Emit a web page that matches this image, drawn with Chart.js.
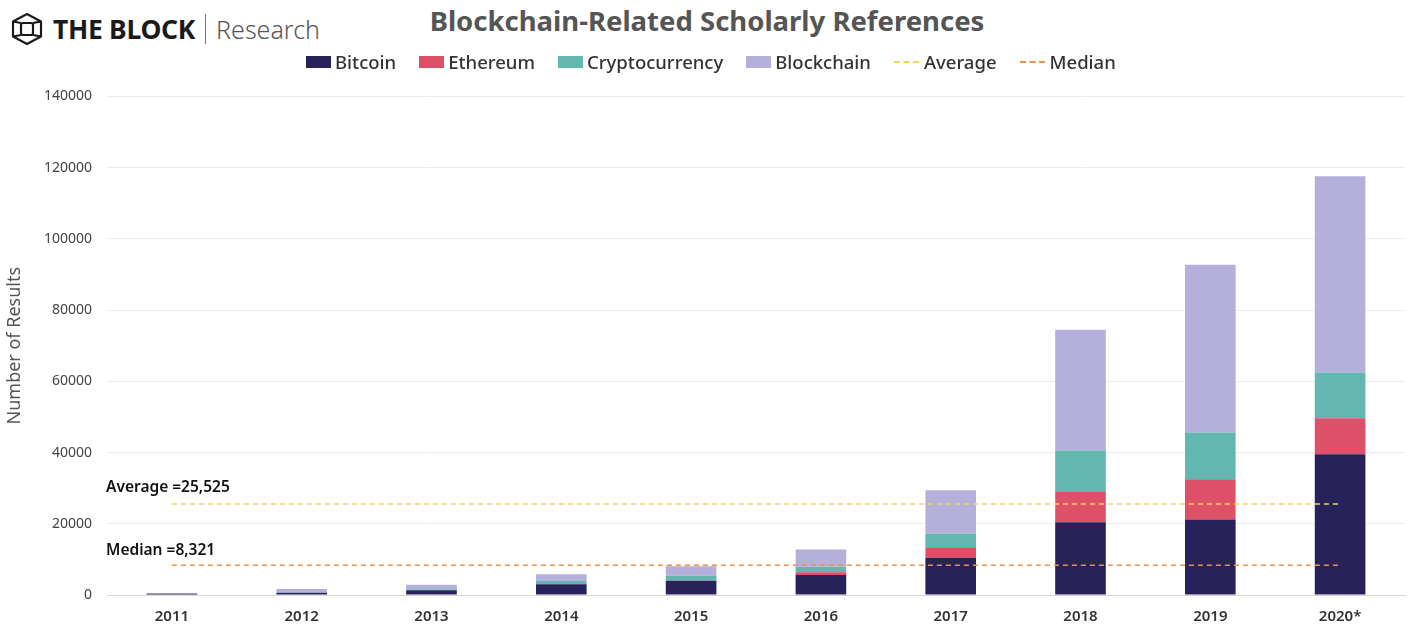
<!DOCTYPE html>
<html>
<head>
<meta charset="utf-8">
<script src="https://cdn.jsdelivr.net/npm/chart.js@4"></script>
<style>
  body { margin: 0; width: 1422px; height: 626px; background: #fff; font-family: "Noto Sans", sans-serif; overflow: hidden; position: relative; }
  #logo { position: absolute; left: 10px; top: 11px; display: flex; align-items: center; }
  #logo .brand { font-weight: 700; font-size: 26.5px; color: #1a1a1a; margin-left: 9px; letter-spacing: -0.3px; }
  #logo .sep { width: 1px; height: 30px; background: #777; margin: 0 10px 0 10px; }
  #logo .res { font-weight: 300; font-size: 25px; color: #555; }
  #title { position: absolute; top: 2px; left: 0; width: 1414px; text-align: center; font-weight: 700; font-size: 27.5px; color: #555; }
  #legend { position: absolute; top: 49px; left: 306px; display: flex; font-size: 18.5px; color: #333; font-weight: 500; z-index: 2; }
  #legend .item { display: flex; align-items: center; margin-right: 23px; }
  #legend .sw { width: 25px; height: 12px; margin-right: 4px; }
  #legend .dash { width: 25px; height: 0; border-top: 2px dashed; margin-right: 5px; }
  #wrap { position: absolute; left: 0; top: 73px; width: 1422px; height: 553px; }
</style>
</head>
<body>
<div id="logo">
  <svg width="34" height="34" viewBox="0 0 34 34">
    <g fill="none" stroke="#1a1a1a" stroke-width="2.2" stroke-linejoin="round">
      <polygon points="17,2 31,9.5 31,24.5 17,32 3,24.5 3,9.5"/>
      <rect x="11" y="11" width="12" height="12" rx="2"/>
      <line x1="3" y1="9.5" x2="11" y2="11"/>
      <line x1="31" y1="9.5" x2="23" y2="11"/>
      <line x1="3" y1="24.5" x2="11" y2="23"/>
      <line x1="31" y1="24.5" x2="23" y2="23"/>
    </g>
  </svg>
  <span class="brand">THE BLOCK</span><span class="sep"></span><span class="res">Research</span>
</div>
<div id="title">Blockchain-Related Scholarly References</div>
<div id="legend"></div>
<div id="wrap"><canvas id="chart"></canvas></div>
<script>
const years = ["2011", "2012", "2013", "2014", "2015", "2016", "2017", "2018", "2019", "2020*"];
const bitcoin = [400, 600, 1300, 3000, 4000, 5600, 10400, 20400, 21200, 39500];
const ethereum = [0, 0, 0, 50, 100, 800, 3000, 8500, 11300, 10100];
const cryptocurrency = [0, 100, 300, 900, 1300, 1500, 3900, 11700, 13100, 12900];
const blockchain = [50, 1000, 1300, 1900, 2700, 4900, 12100, 33900, 47100, 55100];
const averageLine = [25525, 25525, 25525, 25525, 25525, 25525, 25525, 25525, 25525, 25525];
const medianLine = [8321, 8321, 8321, 8321, 8321, 8321, 8321, 8321, 8321, 8321];
const yTicks = [0, 20000, 40000, 60000, 80000, 100000, 120000, 140000];

const fontFamily = '"Noto Sans", sans-serif';
const avgColor = "#f6d45c";
const medColor = "#ef9047";

// text labels above the average / median lines
const lineLabels = {
  id: "lineLabels",
  afterDatasetsDraw(chart) {
    const ctx = chart.ctx;
    const y = chart.scales.y;
    const left = chart.chartArea.left - 1;
    ctx.save();
    ctx.fillStyle = "#111";
    ctx.font = "600 15.5px " + fontFamily;
    ctx.textBaseline = "middle";
    ctx.fillText("Average =25,525", left, y.getPixelForValue(averageLine[0]) - 17);
    ctx.fillText("Median =8,321", left, y.getPixelForValue(medianLine[0]) - 15);
    ctx.restore();
  }
};

const chart = new Chart(document.getElementById("chart"), {
  type: "bar",
  data: {
    labels: years,
    datasets: [
      { label: "Bitcoin", data: bitcoin, backgroundColor: "#28225a", stack: "s", order: 2 },
      { label: "Ethereum", data: ethereum, backgroundColor: "#de4f68", stack: "s", order: 2 },
      { label: "Cryptocurrency", data: cryptocurrency, backgroundColor: "#62b8b0", stack: "s", order: 2 },
      { label: "Blockchain", data: blockchain, backgroundColor: "#b4afdb", stack: "s", order: 2 },
      { type: "line", label: "Average", data: averageLine, borderColor: avgColor, borderWidth: 1.5,
        borderDash: [5, 4], pointRadius: 0, fill: false, stack: "avg", order: 1 },
      { type: "line", label: "Median", data: medianLine, borderColor: medColor, borderWidth: 1.5,
        borderDash: [5, 4], pointRadius: 0, fill: false, stack: "med", order: 1 }
    ]
  },
  options: {
    responsive: true,
    maintainAspectRatio: false,
    animation: false,
    layout: { padding: { top: 0, right: 17, left: 0, bottom: 0 } },
    plugins: { legend: { display: false }, tooltip: { enabled: false } },
    datasets: { bar: { categoryPercentage: 1, barPercentage: 0.39 } },
    scales: {
      x: {
        stacked: true,
        afterFit: (s) => { s.height = 31; },
        grid: { display: false },
        border: { color: "#d8d8d8" },
        ticks: { color: "#333", padding: 5, font: { family: fontFamily, size: 15, weight: "600" } }
      },
      y: {
        stacked: true,
        min: 0,
        max: 140000,
        afterBuildTicks: (s) => { s.ticks = yTicks.map(v => ({ value: v })); },
        afterFit: (s) => { s.width = 107; },
        grid: { color: "#ebebeb", drawTicks: false },
        border: { display: false },
        title: { display: true, text: "Number of Results", color: "#555", padding: { top: 4, bottom: 0 },
          font: { family: fontFamily, size: 18 } },
        ticks: { color: "#444", padding: 15, font: { family: fontFamily, size: 14 }, callback: (v) => String(v) }
      }
    }
  },
  plugins: [lineLabels]
});

// html legend, same order and colours as the datasets
const legend = document.getElementById("legend");
[["Bitcoin", "#28225a"], ["Ethereum", "#de4f68"], ["Cryptocurrency", "#62b8b0"], ["Blockchain", "#b4afdb"],
 ["Average", avgColor, true], ["Median", medColor, true]].forEach(([label, color, dashed]) => {
  const item = document.createElement("div");
  item.className = "item";
  const mark = document.createElement("span");
  if (dashed) {
    mark.className = "dash";
    mark.style.borderTopColor = color;
  } else {
    mark.className = "sw";
    mark.style.background = color;
  }
  item.appendChild(mark);
  item.appendChild(document.createTextNode(label));
  legend.appendChild(item);
});
</script>
</body>
</html>
